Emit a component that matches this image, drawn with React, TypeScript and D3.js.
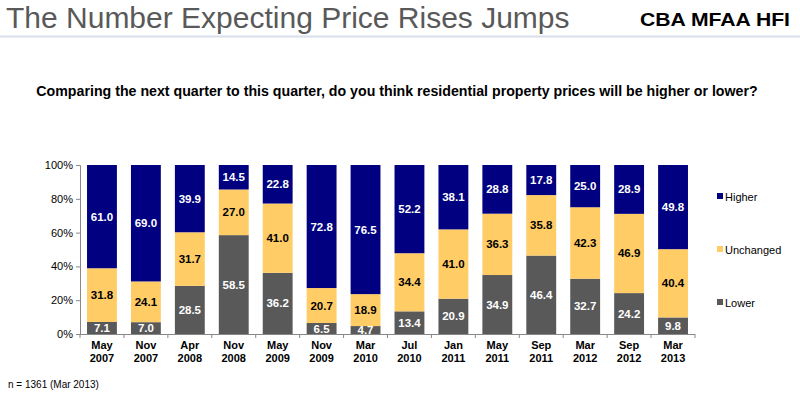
import { useEffect, useRef } from 'react';
import * as d3 from 'd3';

const months = ['May', 'Nov', 'Apr', 'Nov', 'May', 'Nov', 'Mar', 'Jul', 'Jan', 'May', 'Sep', 'Mar', 'Sep', 'Mar'];
const years = ['2007', '2007', '2008', '2008', '2009', '2009', '2010', '2010', '2011', '2011', '2011', '2012', '2012', '2013'];
const lower = [7.1, 7.0, 28.5, 58.5, 36.2, 6.5, 4.7, 13.4, 20.9, 34.9, 46.4, 32.7, 24.2, 9.8];
const unchanged = [31.8, 24.1, 31.7, 27.0, 41.0, 20.7, 18.9, 34.4, 41.0, 36.3, 35.8, 42.3, 46.9, 40.4];
const higher = [61.0, 69.0, 39.9, 14.5, 22.8, 72.8, 76.5, 52.2, 38.1, 28.8, 17.8, 25.0, 28.9, 49.8];
const seriesNames = ['Lower', 'Unchanged', 'Higher'];
const colors = ['#595959', '#FFCC66', '#000080'];
const labelColors = ['#ffffff', '#000000', '#ffffff'];
const yTicks = [0, 20, 40, 60, 80, 100];

export default function App() {
  const ref = useRef<SVGSVGElement>(null);

  useEffect(() => {
    if (!ref.current) return;
    const svg = d3.select(ref.current);
    svg.selectAll('*').remove();

    const font = 'Liberation Sans, Arial, sans-serif';
    const left = 80, right = 695, top = 165, bottom = 334;

    // cabecera
    svg.append('text')
      .attr('x', 6).attr('y', 28)
      .style('font-family', font).style('font-size', '30px')
      .style('fill', '#595959')
      .text('The Number Expecting Price Rises Jumps');
    svg.append('text')
      .attr('x', 790).attr('y', 26)
      .attr('text-anchor', 'end')
      .attr('textLength', 150).attr('lengthAdjust', 'spacingAndGlyphs')
      .style('font-family', 'Liberation Sans Narrow, Arial Narrow, sans-serif')
      .style('font-weight', 'bold').style('font-size', '19px')
      .style('fill', '#000')
      .text('CBA MFAA HFI');
    svg.append('line')
      .attr('x1', 0).attr('x2', 800).attr('y1', 36.5).attr('y2', 36.5)
      .style('stroke', '#d8e0ec').style('stroke-width', 2);

    svg.append('text')
      .attr('x', 397).attr('y', 96)
      .attr('text-anchor', 'middle')
      .style('font-family', font).style('font-weight', 'bold').style('font-size', '14.2px')
      .text('Comparing the next quarter to this quarter, do you think residential property prices will be higher or lower?');

    const idx = months.map((_, i) => String(i));
    const x = d3.scaleBand().domain(idx).range([left, right]).paddingInner(0.32).paddingOuter(0.16);
    const y = d3.scaleLinear().domain([0, 100]).range([bottom, top]);

    const rows = idx.map((k, i) => ({ key: k, Lower: lower[i], Unchanged: unchanged[i], Higher: higher[i] }));
    const stacked = d3.stack<any>().keys(seriesNames)(rows);

    stacked.forEach((layer, si) => {
      const g = svg.append('g');
      g.selectAll('rect')
        .data(layer)
        .enter()
        .append('rect')
        .attr('x', d => x(d.data.key)!)
        .attr('width', x.bandwidth())
        .attr('y', d => si === 2 ? y(100) : y(d[1]))
        .attr('height', d => si === 2 ? y(d[0]) - y(100) : y(d[0]) - y(d[1]))
        .style('fill', colors[si]);
      g.selectAll('text')
        .data(layer)
        .enter()
        .append('text')
        .attr('x', d => x(d.data.key)! + x.bandwidth() / 2)
        .attr('y', d => (y(d[0]) + y(si === 2 ? 100 : d[1])) / 2)
        .attr('text-anchor', 'middle')
        .attr('dominant-baseline', 'central')
        .style('font-family', font).style('font-weight', 'bold').style('font-size', '11.5px')
        .style('fill', labelColors[si])
        .text(d => (d[1] - d[0]).toFixed(1));
    });

    // eje Y
    const yAxis = svg.append('g')
      .attr('transform', `translate(${left},0)`)
      .call(d3.axisLeft(y).tickValues(yTicks).tickSize(4).tickFormat(d => `${d}%`));
    yAxis.select('.domain').style('stroke', '#888');
    yAxis.selectAll('line').style('stroke', '#888');
    yAxis.selectAll('text').style('font-family', font).style('font-size', '11px').style('fill', '#000');

    // eje X
    const edges = idx.map(k => x(k)! - x.step() * x.paddingInner() / 2).concat([right]);
    svg.append('line')
      .attr('x1', left).attr('x2', right).attr('y1', bottom + 0.5).attr('y2', bottom + 0.5)
      .style('stroke', '#888');
    svg.append('g').selectAll('line')
      .data(edges)
      .enter()
      .append('line')
      .attr('x1', d => d).attr('x2', d => d)
      .attr('y1', bottom).attr('y2', bottom + 4)
      .style('stroke', '#888');

    const xl = svg.append('g');
    idx.forEach((k, i) => {
      const cx = x(k)! + x.bandwidth() / 2;
      const t = xl.append('text')
        .attr('x', cx).attr('y', 349)
        .attr('text-anchor', 'middle')
        .style('font-family', font).style('font-weight', 'bold').style('font-size', '11px');
      t.append('tspan').attr('x', cx).text(months[i]);
      t.append('tspan').attr('x', cx).attr('dy', 13).text(years[i]);
    });

    // leyenda
    const lg = svg.append('g');
    [2, 1, 0].forEach((si, j) => {
      const ly = 197 + j * 53;
      lg.append('rect')
        .attr('x', 717).attr('y', ly - 4).attr('width', 6).attr('height', 6)
        .style('fill', colors[si]);
      lg.append('text')
        .attr('x', 725).attr('y', ly)
        .attr('dominant-baseline', 'central')
        .style('font-family', font).style('font-size', '11px')
        .text(seriesNames[si]);
    });

    svg.append('text')
      .attr('x', 8).attr('y', 388)
      .style('font-family', font).style('font-size', '10px')
      .text('n = 1361 (Mar 2013)');
  }, []);

  return (
    <svg ref={ref} width={800} height={396}
      style={{ position: 'absolute', left: 0, top: 0, background: '#fff' }} />
  );
}
